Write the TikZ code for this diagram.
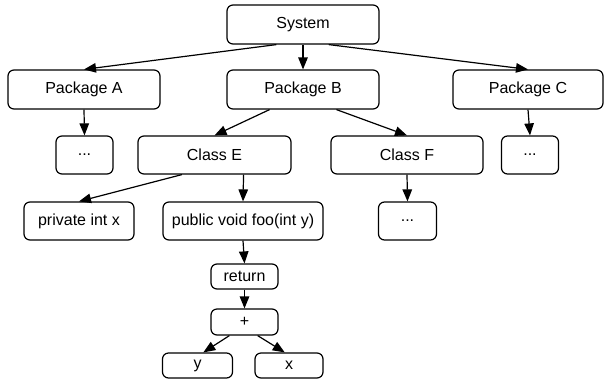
\documentclass[tikz,border=0pt]{standalone}
\usepackage{fontspec}
\setmainfont{Liberation Sans}
\usepackage{tikz}
\usetikzlibrary{arrows.meta}
\tikzset{
boxnodev1/.style={rectangle, draw=black!100,fill=white,line width=1.2pt, rounded corners=6pt, inner sep=0pt, minimum width= 152pt, minimum height = 39pt},
boxnodev2/.style={rectangle, draw=black!100,fill=white,line width=1.2pt, rounded corners=6pt, inner sep=0pt, minimum width= 57pt, minimum height = 38pt},
boxnodev3/.style={rectangle, draw=black!100,fill=white,line width=1.2pt, rounded corners=6pt, inner sep=0pt, minimum width= 67pt, minimum height = 25pt},
edgev1/.style={black, line width=1.2pt, -{Triangle[length=12pt,width=9.5pt]}},
}
\begin{document}
\begin{tikzpicture}[x=1pt,y=-1pt,font=\fontsize{16}{19}\selectfont]
\useasboundingbox (0,0) rectangle (604,381);
\node[boxnodev1] at (303,24.5) (sys) {System};
\node[boxnodev1] at (84,89.5) (pkga) {Package A};
\node[boxnodev1] at (303,89.5) (pkgb) {Package B};
\node[boxnodev1, minimum width=150pt] at (528,89.5) (pkgc) {Package C};
\node[boxnodev2] at (84.5,155) (dotsa) {...};
\node[boxnodev1, minimum width=153pt, minimum height=38pt] at (214.5,155) (classe) {Class E};
\node[boxnodev1, minimum height=38pt] at (407,155) (classf) {Class F};
\node[boxnodev2] at (530,155) (dotsc) {...};
\node[boxnodev1, minimum width=110pt, minimum height=38pt] at (79,221) (privx) {private int x};
\node[boxnodev1, minimum width=160pt, minimum height=38pt] at (243,221) (pubfoo) {public void foo(int y)};
\node[boxnodev2, minimum width=58pt] at (407.5,221) (dotsf) {...};
\node[boxnodev3] at (244.5,276.5) (ret) {return};
\node[boxnodev3, minimum height=26pt] at (244.5,322) (plus) {+};
\node[boxnodev3, minimum width=70pt] at (197.5,365.5) (vary) {y};
\node[boxnodev3, minimum width=68pt] at (289,365.5) (varx) {x};
%top level
\draw[edgev1] (sys.217) to (pkga.north);
\draw[edgev1] (sys.south) to (pkgb.north);
\draw[edgev1] (sys.322) to (pkgc.north);
%packages
\draw[edgev1] (pkga.south) to (dotsa.north);
\draw[edgev1] (pkgb.211) to (classe.north);
\draw[edgev1] (pkgb.329) to (classf.north);
\draw[edgev1] (pkgc.south) to (dotsc.north);
%classes
\draw[edgev1] (classe.211) to (privx.north);
\draw[edgev1] (classe.326) to (pubfoo.north);
\draw[edgev1] (classf.south) to (dotsf.north);
%method body
\draw[edgev1] (pubfoo.south) to (ret.north);
\draw[edgev1] (ret.south) to (plus.north);
\draw[edgev1] (plus.222) to (vary.66);
\draw[edgev1] (plus.314) to (varx.108);
\end{tikzpicture}
\end{document}
